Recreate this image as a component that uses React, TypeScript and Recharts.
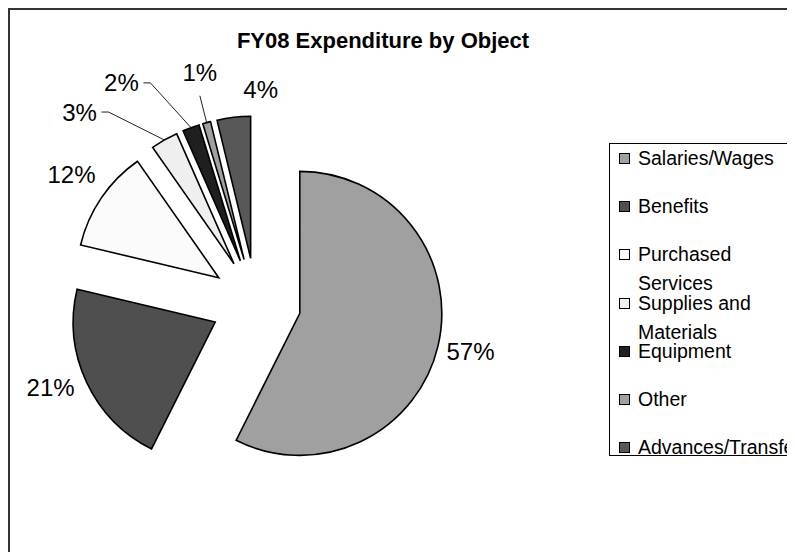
import React from 'react';
import { PieChart, Pie, Cell, Legend } from 'recharts';

const CATEGORIES = [
  'Salaries/Wages',
  'Benefits',
  'Purchased Services',
  'Supplies and Materials',
  'Equipment',
  'Other',
  'Advances/Transfers',
];
const SHARES = [57.4, 21.3, 11.6, 3.1, 1.9, 0.9, 3.8];
const FILLS = ['#a0a0a0', '#4f4f4f', '#fbfbfb', '#efefef', '#1f1f1f', '#a0a0a0', '#585858'];

const FONT = '"Liberation Sans", Arial, sans-serif';
const CX = 246;
const CY = 293;
const RADIUS = 142;
const EXPLODE = 45;
const RAD = Math.PI / 180;

// where each percentage sits: turn (deg, clockwise) and distance from the unexploded centre
const LABEL_SPOTS = [
  { turn: -0.5, dist: 220, lead: '' },
  { turn: 2.7, dist: 222, lead: '' },
  { turn: 0.7, dist: 225, lead: '' },
  { turn: -13.4, dist: 260, lead: 'side' },
  { turn: -11.1, dist: 258, lead: 'side' },
  { turn: 1.6, dist: 237, lead: 'below' },
  { turn: 8.1, dist: 214, lead: '' },
];

const data = CATEGORIES.map((name, i) => ({ name, value: SHARES[i] }));
const total = SHARES.reduce((a, b) => a + b, 0);

// each slice gets pushed out along its own middle angle
const offsets = SHARES.map((v, i) => {
  const before = SHARES.slice(0, i).reduce((a, b) => a + b, 0);
  const mid = ((before + v / 2) / total) * 360;
  return { dx: EXPLODE * Math.sin(mid * RAD), dy: -EXPLODE * Math.cos(mid * RAD) };
});

const makeLabel = (slice: number) => (props: any) => {
  if (props.index !== slice) return null;
  const spot = LABEL_SPOTS[slice];
  const theta = 90 - props.midAngle + spot.turn;
  const lx = CX + spot.dist * Math.sin(theta * RAD);
  const ly = CY - spot.dist * Math.cos(theta * RAD);
  const ax = props.cx + props.outerRadius * Math.cos(-props.midAngle * RAD);
  const ay = props.cy + props.outerRadius * Math.sin(-props.midAngle * RAD);
  let lead = null;
  if (spot.lead === 'side') {
    lead = <polyline points={`${lx + 22},${ly} ${lx + 29},${ly} ${ax},${ay}`} fill="none" stroke="#222" strokeWidth={1} />;
  } else if (spot.lead === 'below') {
    lead = <line x1={lx} y1={ly + 23} x2={ax} y2={ay} stroke="#222" strokeWidth={1} />;
  }
  return (
    <g>
      {lead}
      <text x={lx} y={ly} textAnchor="middle" dominantBaseline="central" fontSize={24} fontFamily={FONT} fill="#000">
        {`${Math.round(props.percent * 100)}%`}
      </text>
    </g>
  );
};

const LegendBox = () => (
  <div
    style={{
      width: 230,
      height: 313,
      border: '1px solid #000',
      background: '#fff',
      boxSizing: 'border-box',
      fontFamily: FONT,
      fontSize: 19.5,
      color: '#000',
    }}
  >
    {CATEGORIES.map((name, i) => (
      <div key={name} style={{ height: 48.2, display: 'flex', alignItems: 'flex-start' }}>
        <span
          style={{
            width: 11,
            height: 11,
            boxSizing: 'border-box',
            border: '1px solid #000',
            background: FILLS[i],
            margin: '9px 8px 0 9px',
            flex: 'none',
          }}
        />
        <span style={{ lineHeight: '29px', width: 165, whiteSpace: 'normal' }}>{name}</span>
      </div>
    ))}
  </div>
);

export default function App() {
  return (
    <div
      style={{
        position: 'relative',
        width: 787,
        height: 544,
        overflow: 'hidden',
        borderLeft: '2px solid #333',
        borderTop: '2px solid #333',
        boxSizing: 'border-box',
        background: '#fff',
      }}
    >
      <div
        style={{
          position: 'absolute',
          left: 0,
          top: 18,
          width: 746,
          textAlign: 'center',
          fontFamily: FONT,
          fontWeight: 'bold',
          fontSize: 22,
          lineHeight: '26px',
          zIndex: 2,
        }}
      >
        FY08 Expenditure by Object
      </div>
      <PieChart width={840} height={542} margin={{ top: 0, right: 0, bottom: 0, left: 0 }}>
        {offsets.map((o, i) => (
          <Pie
            key={CATEGORIES[i]}
            data={data}
            dataKey="value"
            nameKey="name"
            cx={CX + o.dx}
            cy={CY + o.dy}
            outerRadius={RADIUS}
            startAngle={90}
            endAngle={-270}
            label={makeLabel(i)}
            labelLine={false}
            legendType="none"
            isAnimationActive={false}
          >
            {data.map((d, j) => (
              <Cell
                key={d.name}
                fill={j === i ? FILLS[j] : 'none'}
                stroke={j === i ? '#000' : 'none'}
                strokeWidth={1.6}
              />
            ))}
          </Pie>
        ))}
        <Legend
          layout="vertical"
          align="right"
          verticalAlign="middle"
          content={<LegendBox />}
          wrapperStyle={{ left: 599, top: 133, width: 230 }}
        />
      </PieChart>
    </div>
  );
}
